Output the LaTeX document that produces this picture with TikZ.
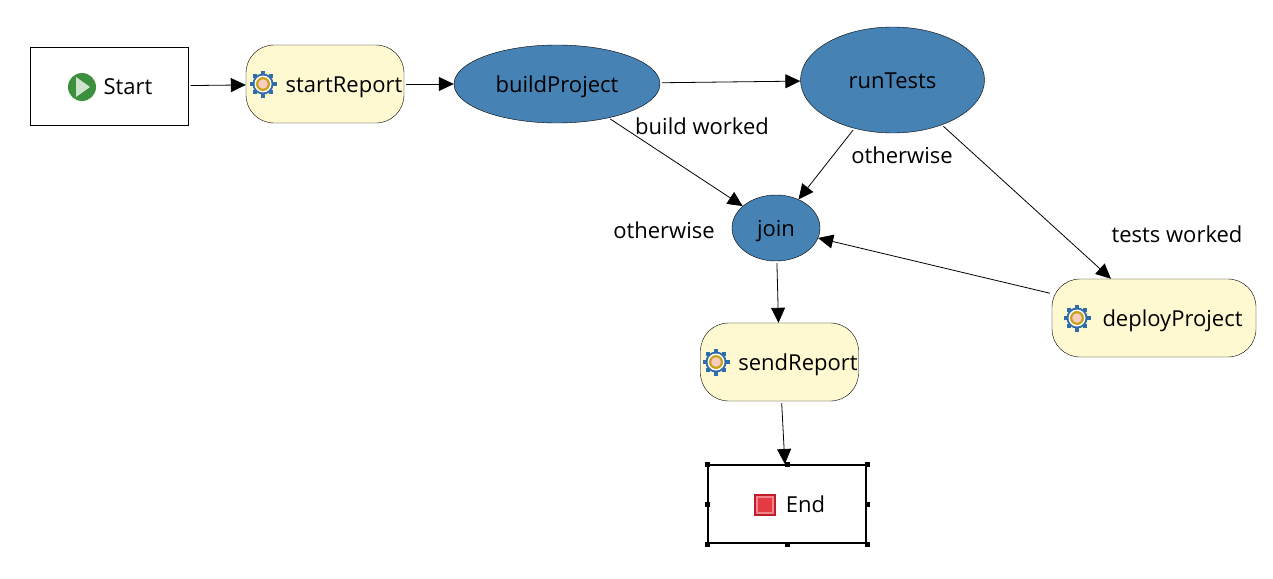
\documentclass[tikz,border=0pt]{standalone}
\usepackage{fontspec}
\setmainfont{Open Sans}
\usetikzlibrary{arrows.meta,positioning,shapes.geometric}
\definecolor{taskfill}{HTML}{FEF9D0}
\definecolor{choice}{HTML}{4682B4}
\definecolor{gearblue}{HTML}{2F6CA8}
\definecolor{geargold}{HTML}{C9A21C}
\definecolor{gearpink}{HTML}{F6CDBE}
\definecolor{startgreen}{HTML}{3C8F3C}
\definecolor{endred}{HTML}{E2232F}
\tikzset{
  every node/.style={font=\fontsize{22}{26}\selectfont,inner sep=0pt,text height=16pt,text depth=0pt},
  boxnode/.style={draw,fill=white,minimum width=158pt,minimum height=78pt},
  tasknode/.style={draw,fill=taskfill,rounded corners=28pt,minimum height=78pt},
  choicenode/.style={draw,ellipse,fill=choice},
  flow/.style={draw,line width=0.8pt,shorten <=2pt,-{Triangle[length=15pt,width=14pt]}},
  gearicon/.pic={
    \foreach \a in {0,45,...,315}
      \fill[gearblue] (\a:11.5pt) ++(-2pt,-2pt) rectangle ++(4pt,4pt);
    \fill[gearblue] (0,0) circle (10.5pt);
    \fill[white] (0,0) circle (8.5pt);
    \fill[geargold] (0,0) circle (7pt);
    \fill[gearpink] (0,0) circle (4.8pt);
  },
  starticon/.pic={
    \fill[startgreen] (0,0) circle (14pt);
    \fill[white!75!startgreen] (-6pt,-10pt) -- (-6pt,10pt) -- (8pt,0pt) -- cycle;
  },
  endicon/.pic={
    \fill[endred!85!black] (-11pt,-11pt) rectangle (11pt,11pt);
    \fill[endred!55!white] (-9pt,-9pt) rectangle (9pt,9pt);
    \fill[endred!90!white] (-7pt,-7pt) rectangle (7pt,7pt);
  }
}
\begin{document}
\begin{tikzpicture}[x=1pt,y=-1pt]
  \useasboundingbox (0,0) rectangle (1273,578);

  % Tasks and choices
  \node[boxnode] (start) at (109.5,86.5) {\hspace*{37pt}Start};
  \node[tasknode,minimum width=158pt] (startReport) at (325,84) {\hspace*{38pt}startReport};
  \node[choicenode,minimum width=206pt,minimum height=78pt] (buildProject) at (557,84) {buildProject};
  \node[choicenode,minimum width=184pt,minimum height=106pt] (runTests) at (892.5,80) {runTests};
  \node[choicenode,minimum width=88pt,minimum height=66pt] (join) at (776,228) {join};
  \node[tasknode,minimum width=204pt] (deployProject) at (1154,318) {\hspace*{37pt}deployProject};
  \node[tasknode,minimum width=158pt] (sendReport) at (779.5,362) {\hspace*{37pt}sendReport};
  \node[boxnode,line width=2pt] (end) at (787,504) {\hspace*{37pt}End};

  % Icons
  \pic at (82,87) {starticon};
  \pic at (263,84) {gearicon};
  \pic at (1077,318) {gearicon};
  \pic at (716,362) {gearicon};
  \pic at (765,505) {endicon};

  % Selection handles
  \foreach \a in {north west,north,north east,west,east,south west,south,south east}
    \fill (end.\a) ++(-2.5pt,-2.5pt) rectangle ++(5pt,5pt);

  % Connectors
  \draw[flow] (start) -- (startReport);
  \draw[flow] (startReport) -- (buildProject);
  \draw[flow] (buildProject) -- (runTests);
  \draw[flow] (buildProject) -- (join);
  \draw[flow] (runTests) -- (join);
  \draw[flow] (runTests) -- (deployProject);
  \draw[flow] (deployProject) -- (join);
  \draw[flow] (join) -- (sendReport);
  \draw[flow] (sendReport) -- (end);

  % Labels
  \node (buildWorked) at (702,126) {build worked};
  \node (runOtherwise) at (902,155) {otherwise};
  \node (buildOtherwise) at (664,230) {otherwise};
  \node (testsWorked) at (1177,234) {tests worked};
\end{tikzpicture}
\end{document}
